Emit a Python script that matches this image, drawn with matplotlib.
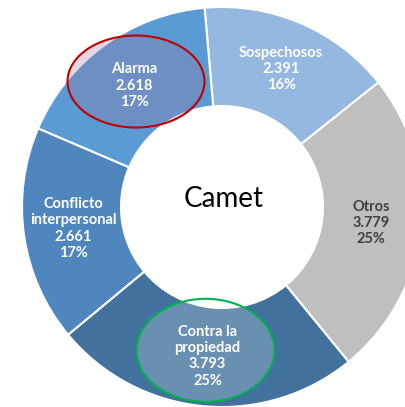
import numpy as np
import matplotlib
matplotlib.use("Agg")
import matplotlib.pyplot as plt
from matplotlib.patches import Ellipse

# data
categories = ["Sospechosos", "Otros", "Contra la\npropiedad", "Conflicto\ninterpersonal", "Alarma"]
values = [2391, 3779, 3793, 2661, 2618]
percent_labels = ["16%", "25%", "25%", "17%", "17%"]
value_labels = ["2.391", "3.779", "3.793", "2.661", "2.618"]
colors = ["#95B8E0", "#BFBFBF", "#41719C", "#4F86BE", "#5B9BD5"]
text_colors = ["white", "#404040", "white", "white", "white"]
center_title = "Camet"
highlighted = {"Alarma": "#C00000", "Contra la\npropiedad": "#00B050"}

fig = plt.figure(figsize=(4.05, 4.07), dpi=100)
ax = fig.add_axes([0, 0, 1, 1])

wedges, _ = ax.pie(
    values,
    colors=colors,
    startangle=95,
    counterclock=False,
    radius=1.0,
    wedgeprops=dict(width=0.495, edgecolor="white", linewidth=1.5),
)

label_r = 0.75
for w, cat, val, pct, tc in zip(wedges, categories, value_labels, percent_labels, text_colors):
    theta = np.deg2rad((w.theta1 + w.theta2) / 2)
    x, y = label_r * np.cos(theta), label_r * np.sin(theta)
    if cat in highlighted:
        if cat == "Alarma":
            ell = Ellipse((x + 0.01, y + 0.02), 0.685, 0.46, facecolor=(0.62, 0.45, 0.6, 0.28),
                          edgecolor=highlighted[cat], linewidth=1.5, zorder=3)
        else:
            ell = Ellipse((x - 0.01, y + 0.03), 0.69, 0.515, facecolor=(1, 1, 1, 0.22),
                          edgecolor=highlighted[cat], linewidth=1.5, zorder=3)
        ax.add_patch(ell)
    ax.text(x, y, f"{cat}\n{val}\n{pct}", ha="center", va="center", color=tc,
            fontsize=10.5, fontweight="bold", family="Lato", linespacing=1.2, zorder=4)

ax.text(0.01, 0.04, center_title, ha="center", va="center", fontsize=20,
        family="Lato", color="black", zorder=4)

ax.set_xlim(-1.11, 0.915)
ax.set_ylim(-1.0, 1.035)
ax.set_aspect("equal")
ax.axis("off")

fig.savefig("out.png", dpi=100)
plt.close(fig)
